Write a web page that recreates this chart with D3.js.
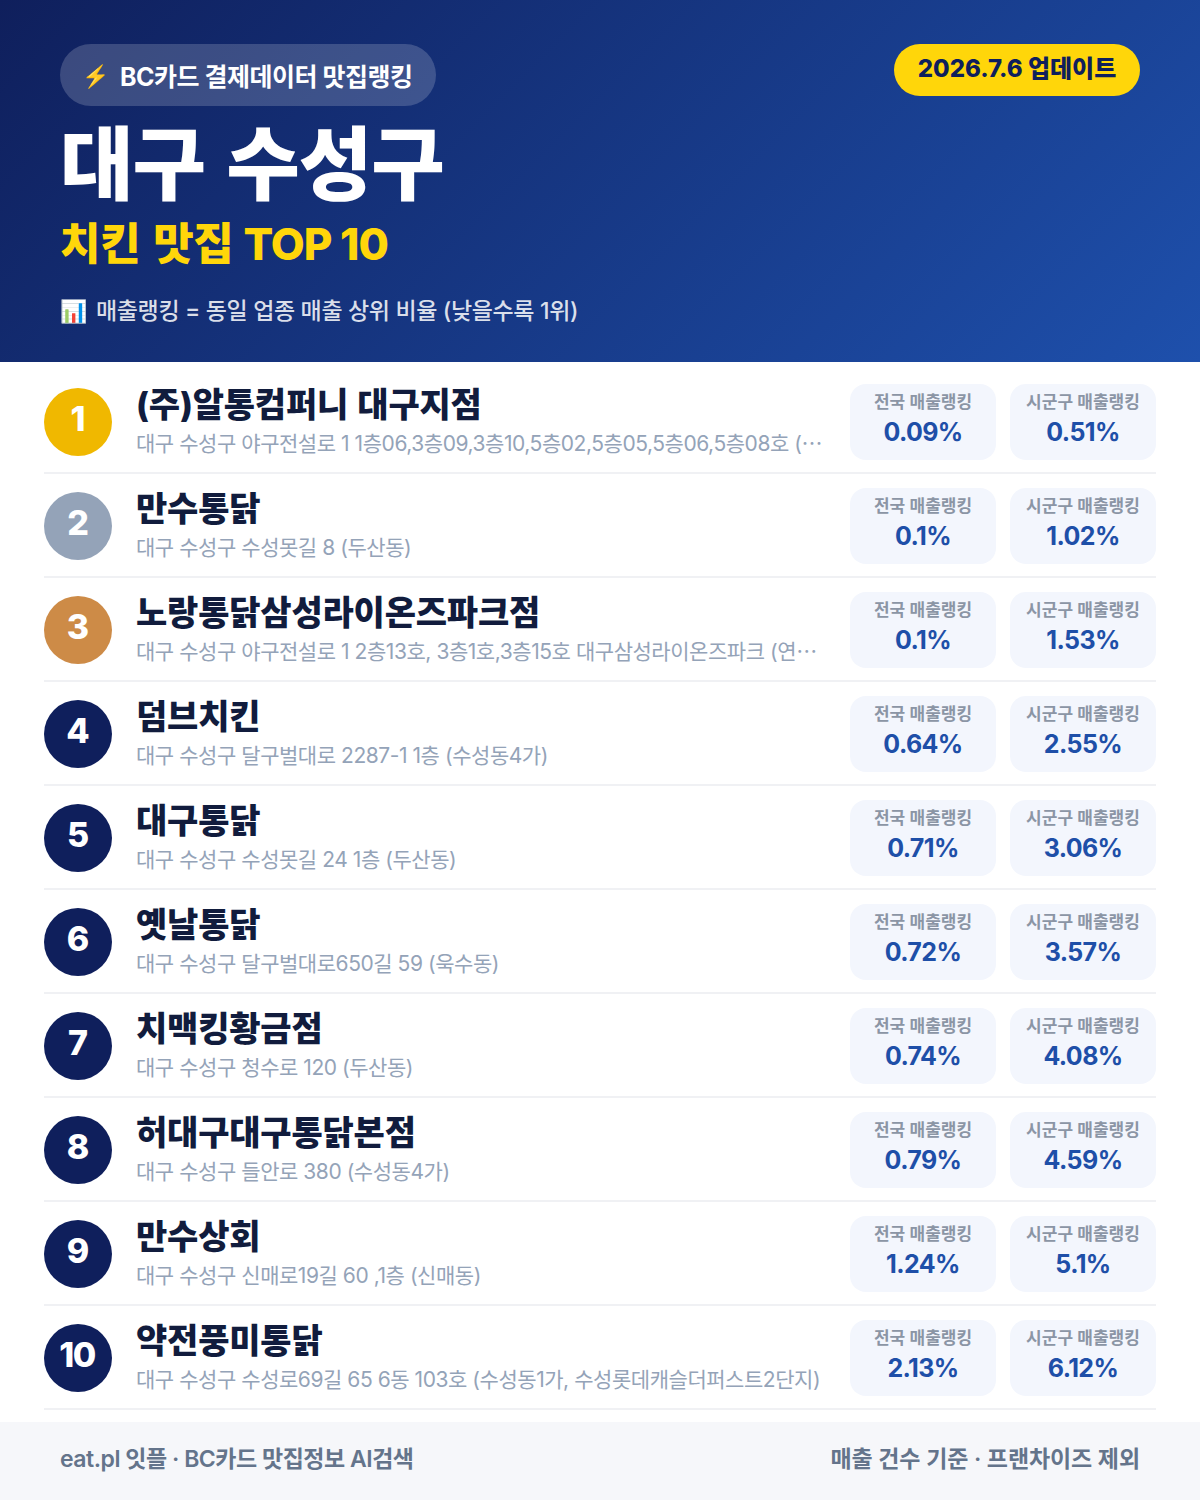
<!DOCTYPE html>
<html lang="ko"><head><meta charset="utf-8">
<script src="https://cdnjs.cloudflare.com/ajax/libs/d3/7.9.0/d3.min.js"></script>
<style>
html,body{margin:0;padding:0;background:#fff}
svg{display:block}
text{font-family:Inter,"Noto Sans CJK KR",sans-serif}
</style></head><body>
<svg id="c" width="1200" height="1500"></svg>
<script>
const badgeLabel = "⚡";
const badgeText = "BC카드 결제데이터 맛집랭킹";
const updateLabel = "2026.7.6 업데이트";
const regionTitle = "대구 수성구";
const subTitleHangul = "치킨 맛집 ";
const subTitleLatin = "TOP 10";
const noteIcon = "📊";
const noteText = "매출랭킹 = 동일 업종 매출 상위 비율 (낮을수록 1위)";
const footerLeft = "eat.pl 잇플 · BC카드 맛집정보 AI검색";
const footerRight = "매출 건수 기준 · 프랜차이즈 제외";
const chipLabels = ["전국 매출랭킹", "시군구 매출랭킹"];
const ranks = [1,2,3,4,5,6,7,8,9,10];
const names = ["(주)알통컴퍼니 대구지점","만수통닭","노랑통닭삼성라이온즈파크점","덤브치킨","대구통닭","옛날통닭","치맥킹황금점","허대구대구통닭본점","만수상회","약전풍미통닭"];
const addresses = [
 "대구 수성구 야구전설로 1 1층06,3층09,3층10,5층02,5층05,5층06,5층08호 (⋯",
 "대구 수성구 수성못길 8 (두산동)",
 "대구 수성구 야구전설로 1 2층13호, 3층1호,3층15호 대구삼성라이온즈파크 (연⋯",
 "대구 수성구 달구벌대로 2287-1 1층 (수성동4가)",
 "대구 수성구 수성못길 24 1층 (두산동)",
 "대구 수성구 달구벌대로650길 59 (욱수동)",
 "대구 수성구 청수로 120 (두산동)",
 "대구 수성구 들안로 380 (수성동4가)",
 "대구 수성구 신매로19길 60 ,1층 (신매동)",
 "대구 수성구 수성로69길 65 6동 103호 (수성동1가, 수성롯데캐슬더퍼스트2단지)"];
const nationalPct = ["0.09","0.1","0.1","0.64","0.71","0.72","0.74","0.79","1.24","2.13"];
const districtPct = ["0.51","1.02","1.53","2.55","3.06","3.57","4.08","4.59","5.1","6.12"];

const svg = d3.select("#c");
const defs = svg.append("defs");
const g = defs.append("linearGradient").attr("id","hdr").attr("gradientUnits","userSpaceOnUse")
  .attr("x1",209.5).attr("y1",-209.5).attr("x2",990.5).attr("y2",571.5);
g.append("stop").attr("offset",0).attr("stop-color","#0f1f5c");
g.append("stop").attr("offset",1).attr("stop-color","#1e50ac");

svg.append("rect").attr("width",1200).attr("height",1500).attr("fill","#fff");
svg.append("rect").attr("width",1200).attr("height",362).attr("fill","url(#hdr)");

function t(sel,x,y,s,size,weight,fill,anchor){
  return sel.append("text").attr("x",x).attr("y",y).attr("font-size",size).attr("font-weight",weight)
    .attr("fill",fill).attr("text-anchor",anchor||"start").text(s);
}
svg.append("rect").attr("x",60).attr("y",44).attr("width",376).attr("height",62).attr("rx",31).attr("fill","#fff").attr("fill-opacity",.18);
t(svg,82,84,badgeLabel,22,700,"#ffd60a");
t(svg,120,86,badgeText,25,700,"#fff").attr("letter-spacing",-.5);
svg.append("rect").attr("x",894).attr("y",44).attr("width",246).attr("height",52).attr("rx",26).attr("fill","#ffd60a");
t(svg,1017,77,updateLabel,24,800,"#0f1f5c","middle");
t(svg,60,193,regionTitle,80,900,"#fff").attr("letter-spacing",-1).attr("word-spacing",6);
const sub = t(svg,60,260,"",44,800,"#ffd60a");
sub.append("tspan").attr("letter-spacing",-.3).attr("word-spacing",3.5).text(subTitleHangul);
sub.append("tspan").attr("dx",-3).attr("letter-spacing",-1).text(subTitleLatin);
t(svg,60,319,noteIcon,22,400,"#fff");
t(svg,96,319,noteText,23,500,"#fff").attr("fill-opacity",.85).attr("letter-spacing",-.35);

const y = d3.scaleLinear().domain([1,10]).range([422,1358]);
const rankFill = d3.scaleOrdinal().domain([1,2,3]).range(["#f0b800","#94a3b8","#cd8b47"]).unknown("#0f1f5c");
const rows = svg.selectAll("g.row").data(ranks).join("g").attr("class","row")
  .attr("transform",d=>`translate(0,${y(d)})`);
rows.append("circle").attr("cx",78).attr("cy",0).attr("r",34).attr("fill",d=>rankFill(d));
rows.append("text").attr("x",d=>d===10?77:78).attr("y",9).attr("text-anchor","middle").attr("font-size",34)
  .attr("font-weight",800).attr("fill","#fff").attr("letter-spacing",d=>d===10?-1.5:0).text(d=>d);
rows.append("text").attr("x",136).attr("y",-5).attr("font-size",34).attr("font-weight",800).attr("fill","#111c3d")
  .attr("letter-spacing",-.2).attr("word-spacing",2).text((d,i)=>names[i]);
rows.append("text").attr("x",136).attr("y",29).attr("font-size",21).attr("font-weight",400).attr("fill","#94a3b8")
  .attr("letter-spacing",-.45).text((d,i)=>addresses[i]);
rows.append("rect").attr("x",44).attr("y",50).attr("width",1112).attr("height",2).attr("fill","#f0f1f4");
[[850,chipLabels[0],nationalPct],[1010,chipLabels[1],districtPct]].forEach(([x,lab,vals])=>{
  rows.append("rect").attr("x",x).attr("y",-38).attr("width",146).attr("height",76).attr("rx",16).attr("fill","#f3f6fd");
  rows.append("text").attr("x",x+73).attr("y",-14.5).attr("text-anchor","middle").attr("font-size",17).attr("font-weight",600)
    .attr("fill","#8b95a5").text(lab);
  rows.append("text").attr("x",x+73).attr("y",19).attr("text-anchor","middle").attr("font-size",25).attr("font-weight",700)
    .attr("fill","#1e4fa8").attr("letter-spacing",-.6).text((d,i)=>vals[i]+"%");
});
svg.append("rect").attr("y",1422).attr("width",1200).attr("height",78).attr("fill","#f6f7fa");
t(svg,60,1467,footerLeft,23,600,"#64748b").attr("letter-spacing",-.48);
t(svg,1140,1467,footerRight,23,600,"#64748b","end").attr("letter-spacing",-.1);
</script></body></html>
